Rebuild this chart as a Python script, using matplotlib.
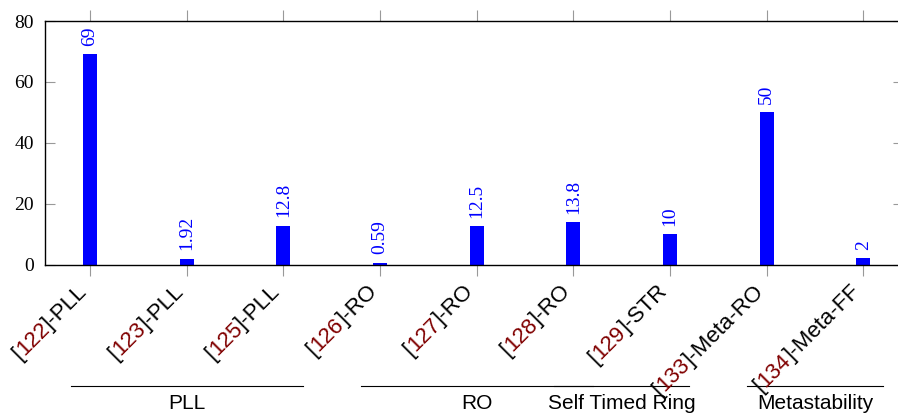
import matplotlib
matplotlib.use("Agg")
import matplotlib.pyplot as plt
import matplotlib.transforms as mtransforms
from matplotlib.font_manager import FontProperties
import numpy as np

# data
cites = ["122", "123", "125", "126", "127", "128", "129", "133", "134"]
names = ["PLL", "PLL", "PLL", "RO", "RO", "RO", "STR", "Meta-RO", "Meta-FF"]
values = [69, 1.92, 12.8, 0.59, 12.5, 13.8, 10, 50, 2]

groups = ["PLL", "RO", "Self Timed Ring", "Metastability"]
group_start = [-0.2, 2.8, 4.8, 6.8]
group_end = [2.2, 5.2, 6.2, 8.2]

W, H = 898, 417
fig = plt.figure(figsize=(W / 100, H / 100), dpi=100)
# right spine sits just past the picture edge, as in the reference
ax = fig.add_axes([45 / W, 1 - 264.5 / H, (903 - 45) / W, (264.5 - 21) / H])

x = np.arange(len(values))
blue = "#0000ff"
darkred = "#800000"
ax.bar(x, values, width=0.145, color=blue, zorder=2)

ax.set_xlim(-0.4655, 8.41)
ax.set_ylim(0, 80)
ax.set_yticks([0, 20, 40, 60, 80])
ax.set_xticks(x)
ax.set_xticklabels([])

serif = FontProperties(family="Liberation Serif", size=14)
sans = FontProperties(family="Liberation Sans", size=16)
gfont = FontProperties(family="Liberation Sans", size=15)

for lab in ax.get_yticklabels():
    lab.set_fontproperties(serif)

ax.tick_params(axis="x", direction="out", top=True, length=8, width=0.8,
               color="#999999")
ax.tick_params(axis="y", direction="in", right=True, length=7, width=0.8,
               color="#999999", pad=8)
for sp in ax.spines.values():
    sp.set_linewidth(1.0)

# value labels above bars
for xi, v in zip(x, values):
    ax.annotate("%g" % v, (xi, v), xytext=(0, 6), textcoords="offset points",
                rotation=90, ha="center", va="bottom", color=blue,
                fontproperties=serif)

# multi-coloured rotated tick labels
fig.canvas.draw()
r = fig.canvas.get_renderer()
ang = np.deg2rad(45)
trans = mtransforms.blended_transform_factory(ax.transData, ax.transAxes)
for xi, c, n in zip(x, cites, names):
    parts = [("[", "black"), (c, darkred), ("]-" + n, "black")]
    shift = 0.0
    for s, col in reversed(parts):
        dx = -shift * np.cos(ang)
        dy = -shift * np.sin(ang)
        t = mtransforms.offset_copy(trans, fig=fig, x=dx - 2, y=dy - 28, units="dots")
        ax.text(xi, 0, s, transform=t, rotation=45, rotation_mode="anchor",
                ha="right", va="baseline", color=col, fontproperties=sans,
                clip_on=False)
        w, h, d = r.get_text_width_height_descent(s, sans, ismath=False)
        shift += w

# group brackets
for g, a, b in zip(groups, group_start, group_end):
    ax.plot([a, b], [-0.499, -0.499], transform=trans, color="black",
            lw=0.8, clip_on=False)
    ax.text((a + b) / 2, -0.572, g, transform=trans, ha="center", va="center",
            fontproperties=gfont, clip_on=False)

fig.savefig("out.png", dpi=100)
